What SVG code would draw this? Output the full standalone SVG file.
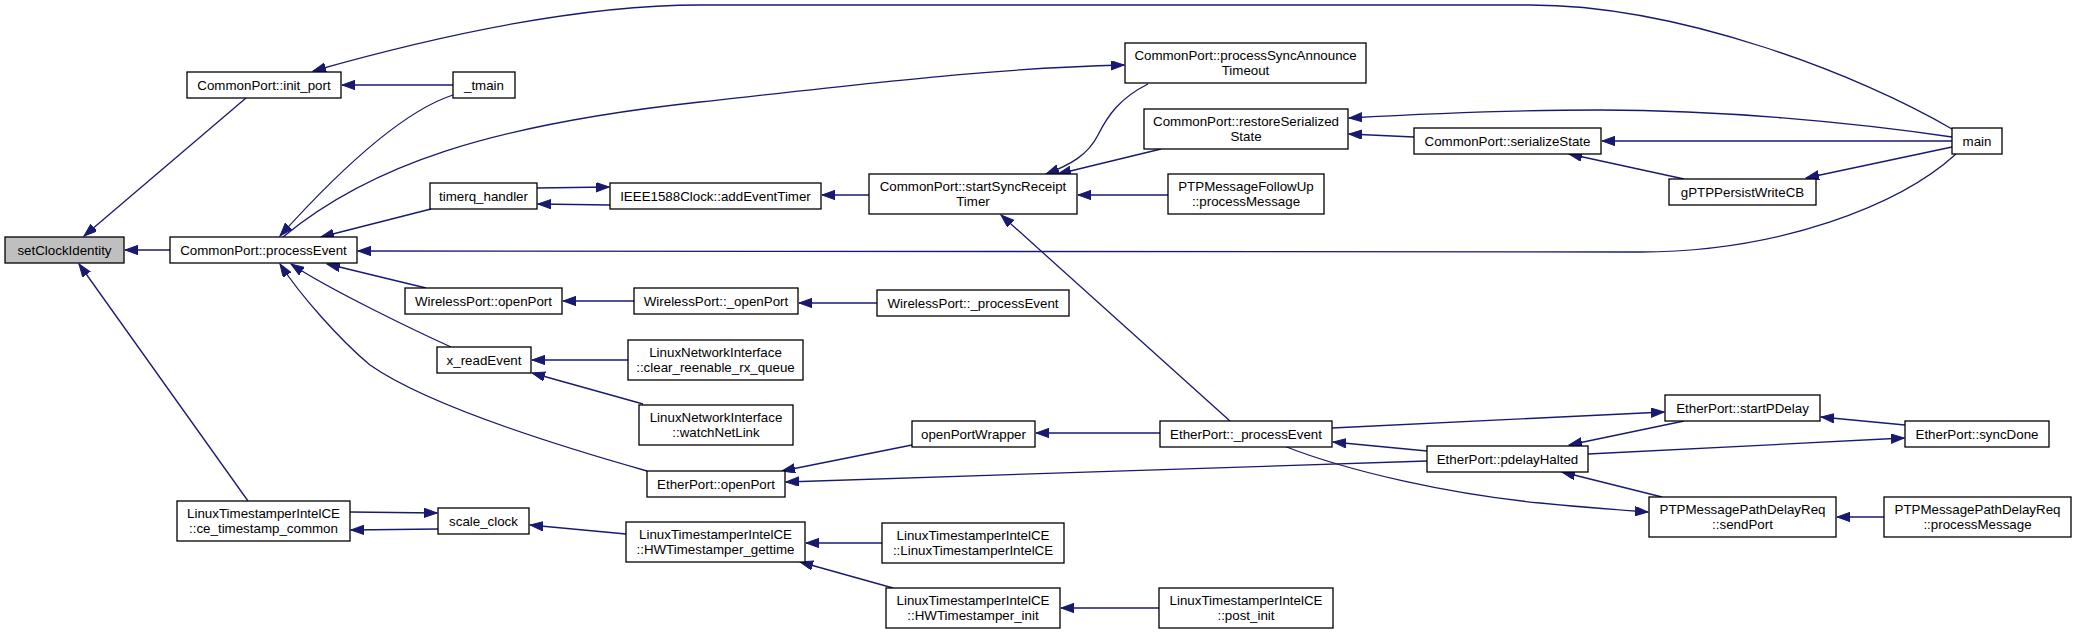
<svg xmlns="http://www.w3.org/2000/svg" width="2076" height="634" viewBox="0 0 2076 634">
<style>
.n rect{fill:#fff;stroke:#000;stroke-width:1.3}
.n.root rect{fill:#bfbfbf}
.n text{font-family:"Liberation Sans",Arial,Helvetica,sans-serif;font-size:13.33px;text-anchor:middle;fill:#000}
.e path{fill:none;stroke:#191970;stroke-width:1.3;marker-end:url(#ah)}
</style>
<defs>
<marker id="ah" markerUnits="userSpaceOnUse" markerWidth="14" markerHeight="10" refX="13" refY="4.65" orient="auto">
<path d="M0,0 L13,4.65 L0,9.3 z" fill="#191970" stroke="#191970" stroke-width="1"/>
</marker>
</defs>
<rect width="2076" height="634" fill="#fff"/>
<g class="e" id="edges">
<path d="M246,98 L84,236"/>
<path d="M170,250 L125,250"/>
<path d="M248,501 L79,264"/>
<path d="M453,85 L342,85"/>
<path d="M1952,129 C1860,75 1680,5 1530,5 L700,5 C580,5 440,35 313,71"/>
<path d="M453,95 C400,112 335,175 280,236"/>
<path d="M283,237 C370,165 490,125 700,102 C900,80 1000,68 1124,65"/>
<path d="M431,209 L321,237"/>
<path d="M1956,154 C1900,205 1780,252 1640,252 L358,251"/>
<path d="M426,288 L327,264"/>
<path d="M451,347 C420,333 330,290 291,264"/>
<path d="M647,471 C520,435 420,400 370,365 C340,340 300,295 280,264"/>
<path d="M537,188 L609,187"/>
<path d="M610,205 L538,204"/>
<path d="M869,195 L822,195"/>
<path d="M1148,84 C1120,98 1108,115 1098,135 C1088,155 1070,165 1046,174"/>
<path d="M1161,149 L1058,174"/>
<path d="M1168,195 L1078,195"/>
<path d="M1230,421 L1001,215"/>
<path d="M1414,137 L1349,134"/>
<path d="M1952,137 C1850,122 1720,110 1600,110 C1500,110 1420,114 1349,118"/>
<path d="M1952,141 L1602,141"/>
<path d="M1684,179 L1569,154"/>
<path d="M1952,147 L1806,178"/>
<path d="M634,301 L563,301"/>
<path d="M877,303 L799,303"/>
<path d="M628,360 L532,360"/>
<path d="M643,404 L532,373"/>
<path d="M912,445 L782,471"/>
<path d="M1427,461 L786,482"/>
<path d="M1160,433 L1036,433"/>
<path d="M1332,428 L1664,412"/>
<path d="M1427,451 L1333,442"/>
<path d="M1284,446 C1350,472 1450,494 1540,503 C1580,507 1620,510 1648,512"/>
<path d="M1684,421 L1569,445"/>
<path d="M1905,425 L1821,417"/>
<path d="M1588,454 L1904,438"/>
<path d="M1662,497 L1562,472"/>
<path d="M1884,517 L1837,517"/>
<path d="M350,512 L437,513"/>
<path d="M438,529 L351,530"/>
<path d="M626,534 L530,525"/>
<path d="M882,543 L806,543"/>
<path d="M893,588 L800,562"/>
<path d="M1159,608 L1061,608"/>
</g>
<g class="n root" id="setClockIdentity"><rect x="5" y="237" width="119" height="26"/><text x="64.5" y="255">setClockIdentity</text></g>
<g class="n" id="init_port"><rect x="187" y="72" width="154" height="26"/><text x="264" y="90">CommonPort::init_port</text></g>
<g class="n" id="tmain"><rect x="453" y="72" width="62" height="26"/><text x="484" y="90">_tmain</text></g>
<g class="n" id="processEvent"><rect x="170" y="237" width="187" height="26"/><text x="263.5" y="255">CommonPort::processEvent</text></g>
<g class="n" id="timerq_handler"><rect x="430" y="183" width="107" height="26"/><text x="483.5" y="201">timerq_handler</text></g>
<g class="n" id="addEventTimer"><rect x="610" y="183" width="211" height="26"/><text x="715.5" y="201">IEEE1588Clock::addEventTimer</text></g>
<g class="n" id="startSyncReceiptTimer"><rect x="869" y="174" width="208" height="40"/><text x="973" y="191">CommonPort::startSyncReceipt</text><text x="973" y="206">Timer</text></g>
<g class="n" id="processSyncAnnounceTimeout"><rect x="1125" y="43" width="241" height="40"/><text x="1245.5" y="60">CommonPort::processSyncAnnounce</text><text x="1245.5" y="75">Timeout</text></g>
<g class="n" id="restoreSerializedState"><rect x="1144" y="109" width="204" height="40"/><text x="1246" y="126">CommonPort::restoreSerialized</text><text x="1246" y="141">State</text></g>
<g class="n" id="followUpProcessMessage"><rect x="1168" y="174" width="156" height="40"/><text x="1246" y="191">PTPMessageFollowUp</text><text x="1246" y="206">::processMessage</text></g>
<g class="n" id="serializeState"><rect x="1414" y="128" width="187" height="26"/><text x="1507.5" y="146">CommonPort::serializeState</text></g>
<g class="n" id="gPTPPersistWriteCB"><rect x="1669" y="179" width="147" height="26"/><text x="1742.5" y="197">gPTPPersistWriteCB</text></g>
<g class="n" id="main"><rect x="1952" y="128" width="50" height="26"/><text x="1977" y="146">main</text></g>
<g class="n" id="wirelessOpenPort"><rect x="405" y="288" width="157" height="26"/><text x="483.5" y="306">WirelessPort::openPort</text></g>
<g class="n" id="wirelessOpenPortInt"><rect x="634" y="288" width="164" height="26"/><text x="716" y="306">WirelessPort::_openPort</text></g>
<g class="n" id="wirelessProcessEvent"><rect x="877" y="290" width="192" height="26"/><text x="973" y="308">WirelessPort::_processEvent</text></g>
<g class="n" id="x_readEvent"><rect x="437" y="347" width="94" height="26"/><text x="484" y="365">x_readEvent</text></g>
<g class="n" id="clearReenable"><rect x="628" y="340" width="175" height="40"/><text x="715.5" y="357">LinuxNetworkInterface</text><text x="715.5" y="372">::clear_reenable_rx_queue</text></g>
<g class="n" id="watchNetLink"><rect x="639" y="405" width="154" height="40"/><text x="716" y="422">LinuxNetworkInterface</text><text x="716" y="437">::watchNetLink</text></g>
<g class="n" id="etherOpenPort"><rect x="647" y="471" width="138" height="26"/><text x="716" y="489">EtherPort::openPort</text></g>
<g class="n" id="openPortWrapper"><rect x="912" y="421" width="123" height="26"/><text x="973.5" y="439">openPortWrapper</text></g>
<g class="n" id="etherProcessEvent"><rect x="1160" y="421" width="172" height="26"/><text x="1246" y="439">EtherPort::_processEvent</text></g>
<g class="n" id="startPDelay"><rect x="1665" y="395" width="155" height="26"/><text x="1742.5" y="413">EtherPort::startPDelay</text></g>
<g class="n" id="syncDone"><rect x="1905" y="421" width="144" height="26"/><text x="1977" y="439">EtherPort::syncDone</text></g>
<g class="n" id="pdelayHalted"><rect x="1427" y="446" width="161" height="26"/><text x="1507.5" y="464">EtherPort::pdelayHalted</text></g>
<g class="n" id="sendPort"><rect x="1649" y="497" width="187" height="40"/><text x="1742.5" y="514">PTPMessagePathDelayReq</text><text x="1742.5" y="529">::sendPort</text></g>
<g class="n" id="pathDelayProcessMessage"><rect x="1884" y="497" width="187" height="40"/><text x="1977.5" y="514">PTPMessagePathDelayReq</text><text x="1977.5" y="529">::processMessage</text></g>
<g class="n" id="ceTimestampCommon"><rect x="177" y="501" width="173" height="40"/><text x="263.5" y="518">LinuxTimestamperIntelCE</text><text x="263.5" y="533">::ce_timestamp_common</text></g>
<g class="n" id="scale_clock"><rect x="438" y="508" width="91" height="26"/><text x="483.5" y="526">scale_clock</text></g>
<g class="n" id="hwGettime"><rect x="626" y="522" width="179" height="40"/><text x="715.5" y="539">LinuxTimestamperIntelCE</text><text x="715.5" y="554">::HWTimestamper_gettime</text></g>
<g class="n" id="ctor"><rect x="882" y="523" width="182" height="40"/><text x="973" y="540">LinuxTimestamperIntelCE</text><text x="973" y="555">::LinuxTimestamperIntelCE</text></g>
<g class="n" id="hwInit"><rect x="886" y="588" width="174" height="40"/><text x="973" y="605">LinuxTimestamperIntelCE</text><text x="973" y="620">::HWTimestamper_init</text></g>
<g class="n" id="postInit"><rect x="1159" y="588" width="174" height="40"/><text x="1246" y="605">LinuxTimestamperIntelCE</text><text x="1246" y="620">::post_init</text></g>
</svg>
